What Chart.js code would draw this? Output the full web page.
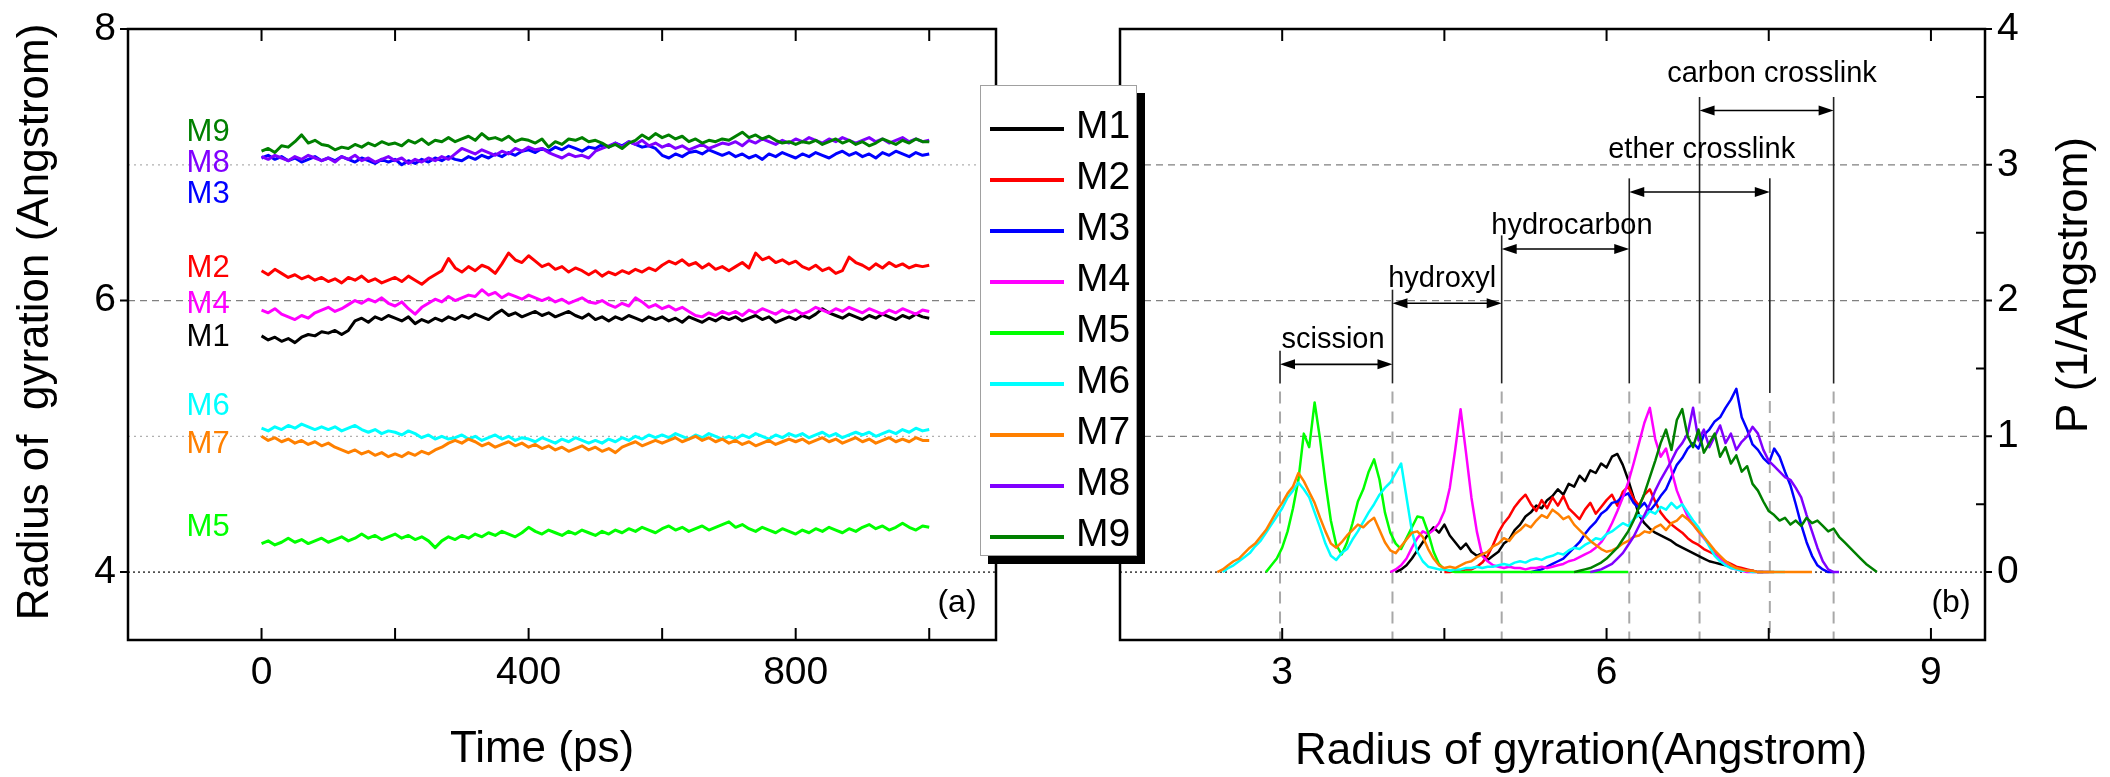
<!DOCTYPE html>
<html>
<head>
<meta charset="utf-8">
<script src="https://cdn.jsdelivr.net/npm/chart.js@4.4.1/dist/chart.umd.min.js"></script>
<style>
  html, body { margin: 0; padding: 0; background: #fff; }
  #wrap { position: relative; width: 2110px; height: 777px; overflow: hidden; background: #fff; }
  #left { position: absolute; left: 0; top: 0; }
  #right { position: absolute; left: 1060px; top: 0; }
  #legend { position: absolute; left: 980px; top: 85px; width: 155px; height: 469px;
            border: 1px solid #a0a0a0; background: #fff; box-shadow: 8px 8px 0 #000;
            font-family: 'Liberation Sans', Arial, sans-serif; }
  .row { position: absolute; left: 0; height: 0; width: 100%; }
  .row i { position: absolute; left: 9px; width: 74px; height: 4px; top: -2px; }
  .row span { position: absolute; left: 95px; top: -26px; font-size: 39px; line-height: 44px; color: #000; }
</style>
</head>
<body>
<div id="wrap">
  <canvas id="left" width="1060" height="777"></canvas>
  <canvas id="right" width="1050" height="777"></canvas>
  <div id="legend"></div>
</div>
<script>
const _ = null;

const seriesNames = ['M1', 'M2', 'M3', 'M4', 'M5', 'M6', 'M7', 'M8', 'M9'];
const seriesColors = ['#000000', '#ff0000', '#0000ff', '#ff00ff', '#00ff00', '#00ffff', '#ff8000', '#8000ff', '#008000'];

// (a) radius of gyration vs time
const timePs = [
  0, 10, 20, 30, 40, 50, 60, 70, 80, 90,
  100, 110, 120, 130, 140, 150, 160, 170, 180, 190,
  200, 210, 220, 230, 240, 250, 260, 270, 280, 290,
  300, 310, 320, 330, 340, 350, 360, 370, 380, 390,
  400, 410, 420, 430, 440, 450, 460, 470, 480, 490,
  500, 510, 520, 530, 540, 550, 560, 570, 580, 590,
  600, 610, 620, 630, 640, 650, 660, 670, 680, 690,
  700, 710, 720, 730, 740, 750, 760, 770, 780, 790,
  800, 810, 820, 830, 840, 850, 860, 870, 880, 890,
  900, 910, 920, 930, 940, 950, 960, 970, 980, 990,
  1000
];

const rgM1 = [
  5.74, 5.71, 5.73, 5.70, 5.72, 5.69, 5.73, 5.75, 5.74, 5.77,
  5.76, 5.78, 5.75, 5.78, 5.85, 5.87, 5.84, 5.88, 5.86, 5.89,
  5.87, 5.85, 5.88, 5.83, 5.86, 5.84, 5.87, 5.85, 5.88, 5.86,
  5.89, 5.87, 5.90, 5.88, 5.86, 5.90, 5.93, 5.89, 5.91, 5.88,
  5.90, 5.92, 5.89, 5.91, 5.88, 5.90, 5.92, 5.89, 5.87, 5.90,
  5.86, 5.88, 5.85, 5.88, 5.86, 5.89, 5.87, 5.85, 5.88, 5.86,
  5.88, 5.85, 5.87, 5.84, 5.88, 5.86, 5.84, 5.87, 5.85, 5.88,
  5.86, 5.88, 5.85, 5.87, 5.89, 5.86, 5.88, 5.84, 5.86, 5.88,
  5.86, 5.89, 5.87, 5.90, 5.94, 5.91, 5.89, 5.87, 5.90, 5.88,
  5.86, 5.89, 5.87, 5.90, 5.88, 5.86, 5.89, 5.87, 5.90, 5.88,
  5.87
];
const rgM2 = [
  6.22, 6.19, 6.23, 6.20, 6.17, 6.19, 6.16, 6.18, 6.15, 6.17,
  6.14, 6.16, 6.13, 6.17, 6.15, 6.18, 6.14, 6.16, 6.13, 6.15,
  6.17, 6.14, 6.18, 6.15, 6.12, 6.16, 6.19, 6.22, 6.31, 6.24,
  6.21, 6.25, 6.22, 6.26, 6.24, 6.20, 6.27, 6.35, 6.30, 6.28,
  6.33, 6.29, 6.25, 6.27, 6.23, 6.25, 6.21, 6.24, 6.22, 6.19,
  6.22, 6.18, 6.21, 6.19, 6.22, 6.20, 6.23, 6.21, 6.24, 6.22,
  6.26, 6.29, 6.27, 6.30, 6.26, 6.28, 6.24, 6.27, 6.23, 6.25,
  6.22, 6.25, 6.28, 6.24, 6.35, 6.30, 6.32, 6.28, 6.30, 6.27,
  6.29, 6.25, 6.23, 6.26, 6.22, 6.24, 6.20, 6.22, 6.32, 6.28,
  6.26, 6.23, 6.27, 6.24, 6.28, 6.25, 6.27, 6.24, 6.26, 6.25,
  6.26
];
const rgM3 = [
  7.05, 7.07, 7.04, 7.06, 7.03, 7.05, 7.02, 7.04, 7.06, 7.03,
  7.05, 7.03, 7.06, 7.04, 7.02, 7.05, 7.03, 7.01, 7.04, 7.02,
  7.04, 7.00, 7.03, 7.01, 7.04, 7.02, 7.05, 7.03, 7.06, 7.04,
  7.03, 7.06, 7.04, 7.07, 7.05, 7.08, 7.06, 7.09, 7.07, 7.10,
  7.11, 7.09, 7.12, 7.10, 7.13, 7.11, 7.14, 7.12, 7.10, 7.13,
  7.12, 7.15, 7.13, 7.16, 7.14, 7.17, 7.15, 7.13, 7.14, 7.12,
  7.07, 7.05, 7.08, 7.06, 7.09, 7.10, 7.08, 7.11, 7.09, 7.07,
  7.09, 7.06, 7.08, 7.05, 7.07, 7.04, 7.08, 7.06, 7.09, 7.07,
  7.05, 7.08, 7.06, 7.09, 7.07, 7.05, 7.08, 7.10, 7.07, 7.09,
  7.06, 7.08, 7.05, 7.09, 7.07, 7.10, 7.08, 7.06, 7.09, 7.07,
  7.08
];
const rgM4 = [
  5.93, 5.91, 5.94, 5.90, 5.88, 5.86, 5.89, 5.87, 5.91, 5.93,
  5.95, 5.92, 5.94, 5.97, 6.00, 5.98, 6.01, 5.99, 6.02, 5.98,
  5.96, 5.99, 5.94, 5.90, 5.95, 5.98, 6.01, 5.99, 6.03, 6.00,
  6.02, 6.04, 6.03, 6.08, 6.04, 6.06, 6.02, 6.05, 6.03, 6.01,
  6.04, 6.02, 6.00, 6.02, 5.99, 6.01, 5.98, 6.00, 6.02, 5.99,
  5.98, 6.00, 5.97, 5.95, 5.98, 5.96, 6.02, 5.99, 5.95, 5.97,
  5.94, 5.96, 5.93, 5.95, 5.92, 5.89, 5.88, 5.91, 5.89, 5.92,
  5.90, 5.92, 5.89, 5.93, 5.91, 5.94, 5.92, 5.90, 5.93, 5.91,
  5.93, 5.90, 5.92, 5.95, 5.93, 5.91, 5.94, 5.92, 5.95, 5.93,
  5.91, 5.94, 5.92, 5.90, 5.93, 5.91, 5.94, 5.92, 5.90, 5.93,
  5.92
];
const rgM5 = [
  4.21, 4.23, 4.20, 4.22, 4.25, 4.22, 4.24, 4.21, 4.23, 4.25,
  4.22, 4.24, 4.26, 4.23, 4.25, 4.28, 4.25, 4.27, 4.24, 4.26,
  4.28, 4.25, 4.27, 4.24, 4.26, 4.23, 4.18, 4.23, 4.26, 4.24,
  4.27, 4.25, 4.28, 4.26, 4.29, 4.27, 4.30, 4.28, 4.26, 4.29,
  4.33, 4.30, 4.28, 4.31, 4.29, 4.27, 4.30, 4.28, 4.31, 4.29,
  4.27, 4.30, 4.28, 4.31, 4.29, 4.32, 4.30, 4.33, 4.31, 4.29,
  4.32, 4.34, 4.31, 4.33, 4.30, 4.32, 4.34, 4.31, 4.33, 4.35,
  4.37, 4.33, 4.35, 4.32, 4.30, 4.33, 4.31, 4.29, 4.32, 4.30,
  4.28, 4.31, 4.29, 4.32, 4.30, 4.33, 4.31, 4.29, 4.32, 4.30,
  4.33, 4.35, 4.32, 4.34, 4.31, 4.33, 4.36, 4.33, 4.31, 4.34,
  4.33
];
const rgM6 = [
  5.06, 5.04, 5.07, 5.05, 5.08, 5.06, 5.09, 5.07, 5.05, 5.07,
  5.05, 5.07, 5.04, 5.06, 5.08, 5.05, 5.03, 5.05, 5.02, 5.04,
  5.03, 5.01, 5.04, 5.02, 4.99, 5.01, 4.98, 5.00, 4.98, 4.99,
  5.01, 4.98, 5.00, 4.97, 4.99, 5.01, 4.98, 5.00, 4.97, 4.99,
  4.98, 4.96, 4.99, 4.97, 4.95, 4.98, 4.96, 4.99, 4.97, 4.95,
  4.97, 4.95, 4.98, 4.96, 4.99, 4.97, 5.00, 4.98, 5.01, 4.99,
  5.01, 4.99, 5.02, 5.00, 4.98, 5.01, 4.99, 5.02, 5.00, 4.98,
  5.00, 4.98, 5.01, 4.99, 5.02, 5.00, 4.98, 5.01, 4.99, 5.02,
  5.00, 5.02, 4.99, 5.01, 5.03, 5.00, 5.02, 4.99, 5.01, 5.03,
  5.01, 5.03, 5.00, 5.02, 5.04, 5.02, 5.05, 5.03, 5.06, 5.04,
  5.05
];
const rgM7 = [
  5.00, 4.97, 4.99, 4.96, 4.98, 4.95, 4.97, 4.94, 4.96, 4.93,
  4.95, 4.92, 4.90, 4.88, 4.90, 4.87, 4.89, 4.86, 4.88, 4.85,
  4.87, 4.85, 4.88, 4.86, 4.89, 4.87, 4.90, 4.92, 4.95, 4.97,
  4.95, 4.98, 4.96, 4.93, 4.95, 4.92, 4.94, 4.96, 4.93, 4.95,
  4.92, 4.94, 4.91, 4.93, 4.90, 4.92, 4.89, 4.91, 4.93, 4.90,
  4.92, 4.89, 4.91, 4.88, 4.92, 4.94, 4.96, 4.93, 4.95, 4.97,
  4.95, 4.97, 4.99, 4.96, 4.98, 5.00, 4.97, 4.99, 4.96, 4.98,
  4.95, 4.97, 4.94, 4.96, 4.93, 4.95, 4.97, 4.94, 4.96, 4.98,
  4.96, 4.98, 4.95, 4.97, 4.99, 4.96, 4.98, 4.95, 4.97, 4.99,
  4.96, 4.98, 4.95, 4.97, 4.99, 4.96, 4.98, 4.96, 4.99, 4.97,
  4.97
];
const rgM8 = [
  7.06, 7.04, 7.07, 7.05, 7.03, 7.06, 7.04, 7.07, 7.05, 7.03,
  7.05, 7.02, 7.06, 7.04, 7.07, 7.03, 7.05, 7.02, 7.04, 7.06,
  7.03, 7.05, 7.01, 7.04, 7.02, 7.05, 7.03, 7.06, 7.04, 7.08,
  7.12, 7.10, 7.08, 7.11, 7.09, 7.07, 7.10, 7.08, 7.12, 7.10,
  7.13, 7.11, 7.12, 7.09, 7.07, 7.05, 7.08, 7.06, 7.07, 7.05,
  7.10, 7.12, 7.14, 7.16, 7.13, 7.17, 7.15, 7.18, 7.14, 7.16,
  7.13, 7.15, 7.12, 7.14, 7.11, 7.13, 7.15, 7.12, 7.14, 7.16,
  7.15, 7.17, 7.14, 7.18, 7.16, 7.19, 7.17, 7.15, 7.18, 7.16,
  7.19, 7.17, 7.20, 7.18, 7.16, 7.19, 7.17, 7.20, 7.18, 7.16,
  7.18, 7.20, 7.17, 7.19, 7.16, 7.18, 7.20, 7.17, 7.19, 7.17,
  7.18
];
const rgM9 = [
  7.10, 7.12, 7.09, 7.14, 7.13, 7.17, 7.22, 7.16, 7.18, 7.15,
  7.14, 7.11, 7.13, 7.12, 7.15, 7.13, 7.16, 7.14, 7.17, 7.15,
  7.16, 7.14, 7.18, 7.16, 7.19, 7.15, 7.18, 7.17, 7.20, 7.17,
  7.19, 7.21, 7.18, 7.23, 7.19, 7.20, 7.18, 7.21, 7.17, 7.19,
  7.18, 7.16, 7.19, 7.13, 7.17, 7.15, 7.19, 7.18, 7.20, 7.17,
  7.18, 7.16, 7.13, 7.15, 7.12, 7.16, 7.18, 7.22, 7.19, 7.23,
  7.20, 7.22, 7.19, 7.21, 7.17, 7.19, 7.16, 7.18, 7.17, 7.19,
  7.18, 7.21, 7.24, 7.20, 7.22, 7.19, 7.21, 7.18, 7.16, 7.17,
  7.15, 7.17, 7.16, 7.18, 7.15, 7.17, 7.19, 7.16, 7.18, 7.15,
  7.17, 7.14, 7.16, 7.19, 7.17, 7.15, 7.18, 7.16, 7.19, 7.17,
  7.17
];

// (b) distribution of radius of gyration
const rgBins = [
  2.35, 2.40, 2.45, 2.50, 2.55, 2.60, 2.65, 2.70, 2.75, 2.80,
  2.85, 2.90, 2.95, 3.00, 3.05, 3.10, 3.15, 3.20, 3.25, 3.30,
  3.35, 3.40, 3.45, 3.50, 3.55, 3.60, 3.65, 3.70, 3.75, 3.80,
  3.85, 3.90, 3.95, 4.00, 4.05, 4.10, 4.15, 4.20, 4.25, 4.30,
  4.35, 4.40, 4.45, 4.50, 4.55, 4.60, 4.65, 4.70, 4.75, 4.80,
  4.85, 4.90, 4.95, 5.00, 5.05, 5.10, 5.15, 5.20, 5.25, 5.30,
  5.35, 5.40, 5.45, 5.50, 5.55, 5.60, 5.65, 5.70, 5.75, 5.80,
  5.85, 5.90, 5.95, 6.00, 6.05, 6.10, 6.15, 6.20, 6.25, 6.30,
  6.35, 6.40, 6.45, 6.50, 6.55, 6.60, 6.65, 6.70, 6.75, 6.80,
  6.85, 6.90, 6.95, 7.00, 7.05, 7.10, 7.15, 7.20, 7.25, 7.30,
  7.35, 7.40, 7.45, 7.50, 7.55, 7.60, 7.65, 7.70, 7.75, 7.80,
  7.85, 7.90, 7.95, 8.00, 8.05, 8.10, 8.15, 8.20, 8.25, 8.30,
  8.35, 8.40, 8.45, 8.50
];

const pM1 = [
  _, _, _, _, _, _, _, _, _, _,
  _, _, _, _, _, _, _, _, _, _,
  _, _, _, _, _, _, _, _, _, _,
  _, _, _, _, 0, 0.02, 0.05, 0.1, 0.16, 0.22,
  0.28, 0.33, 0.29, 0.35, 0.27, 0.22, 0.17, 0.21, 0.15, 0.12,
  0.14, 0.09, 0.12, 0.15, 0.21, 0.24, 0.31, 0.35, 0.41, 0.44,
  0.49, 0.47, 0.53, 0.56, 0.61, 0.57, 0.65, 0.63, 0.71, 0.67,
  0.75, 0.73, 0.8, 0.77, 0.85, 0.87, 0.79, 0.68, 0.55, 0.42,
  0.36, 0.32, 0.29, 0.27, 0.25, 0.23, 0.2, 0.18, 0.16, 0.14,
  0.12, 0.1, 0.08, 0.07, 0.06, 0.05, 0.04, 0.03, 0.02, 0.01,
  0.01, 0, 0, _, _, _, _, _, _, _,
  _, _, _, _, _, _, _, _, _, _,
  _, _, _, _
];
const pM2 = [
  _, _, _, _, _, _, _, _, _, _,
  _, _, _, _, _, _, _, _, _, _,
  _, _, _, _, _, _, _, _, _, _,
  _, _, _, _, _, _, _, _, _, _,
  _, _, _, 0, 0, 0.01, 0.01, 0.02, 0.02, 0.04,
  0.07, 0.12, 0.2, 0.29, 0.36, 0.41, 0.48, 0.53, 0.57, 0.5,
  0.45, 0.53, 0.47, 0.55, 0.49, 0.56, 0.47, 0.43, 0.39, 0.46,
  0.51, 0.43, 0.48, 0.53, 0.57, 0.49, 0.59, 0.63, 0.54, 0.49,
  0.57, 0.61, 0.52, 0.44, 0.39, 0.35, 0.32, 0.29, 0.25, 0.22,
  0.2, 0.17, 0.15, 0.13, 0.1, 0.08, 0.06, 0.04, 0.03, 0.02,
  0.01, 0, 0, 0, 0, _, _, _, _, _,
  _, _, _, _, _, _, _, _, _, _,
  _, _, _, _
];
const pM3 = [
  _, _, _, _, _, _, _, _, _, _,
  _, _, _, _, _, _, _, _, _, _,
  _, _, _, _, _, _, _, _, _, _,
  _, _, _, _, _, _, _, _, _, _,
  _, _, _, _, _, _, _, _, _, _,
  _, _, _, _, _, _, _, _, _, 0,
  0.01, 0.02, 0.04, 0.06, 0.08, 0.1, 0.14, 0.18, 0.22, 0.28,
  0.33, 0.37, 0.43, 0.46, 0.51, 0.52, 0.56, 0.58, 0.51, 0.47,
  0.51, 0.45, 0.5, 0.56, 0.61, 0.7, 0.79, 0.84, 0.91, 0.95,
  0.91, 1.01, 1.05, 1.11, 1.14, 1.21, 1.27, 1.35, 1.14, 1.05,
  0.94, 0.9, 0.84, 0.8, 0.91, 0.85, 0.74, 0.64, 0.5, 0.35,
  0.22, 0.12, 0.05, 0.02, 0, 0, _, _, _, _,
  _, _, _, _
];
const pM4 = [
  _, _, _, _, _, _, _, _, _, _,
  _, _, _, _, _, _, _, _, _, _,
  _, _, _, _, _, _, _, _, _, _,
  _, _, _, 0, 0.02, 0.05, 0.1, 0.18, 0.25, 0.3,
  0.28, 0.31, 0.36, 0.45, 0.62, 0.9, 1.2, 0.88, 0.55, 0.3,
  0.12, 0.08, 0.05, 0.04, 0.03, 0.04, 0.03, 0.03, 0.02, 0.03,
  0.03, 0.04, 0.03, 0.04, 0.05, 0.06, 0.08, 0.09, 0.11, 0.13,
  0.15, 0.18, 0.22, 0.28, 0.36, 0.45, 0.55, 0.66, 0.8, 0.95,
  1.1, 1.21, 0.98, 0.85, 0.91, 0.75, 0.6, 0.5, 0.41, 0.35,
  0.3, 0.25, 0.2, 0.15, 0.1, 0.06, 0.03, 0.02, 0.01, 0,
  0, 0, 0, 0, _, _, _, _, _, _,
  _, _, _, _, _, _, _, _, _, _,
  _, _, _, _
];
const pM5 = [
  _, _, _, _, _, _, _, _, _, _,
  0, 0.05, 0.1, 0.18, 0.3, 0.47, 0.68, 1.02, 0.92, 1.25,
  0.98, 0.66, 0.38, 0.2, 0.13, 0.22, 0.36, 0.52, 0.61, 0.74,
  0.83, 0.68, 0.44, 0.29, 0.21, 0.17, 0.25, 0.33, 0.41, 0.4,
  0.29, 0.15, 0.06, 0.02, 0.01, 0, 0, 0, 0, 0,
  0, 0, 0, 0, 0, 0, 0, 0, 0, 0,
  0, 0, 0, 0, 0, 0, 0, 0, 0, 0,
  0, 0, 0, 0, 0, 0, 0, 0, _, _,
  _, _, _, _, _, _, _, _, _, _,
  _, _, _, _, _, _, _, _, _, _,
  _, _, _, _, _, _, _, _, _, _,
  _, _, _, _, _, _, _, _, _, _,
  _, _, _, _
];
const pM6 = [
  _, _, 0, 0.03, 0.05, 0.08, 0.11, 0.14, 0.19, 0.23,
  0.29, 0.35, 0.41, 0.47, 0.55, 0.6, 0.66, 0.61, 0.55, 0.44,
  0.33, 0.21, 0.12, 0.09, 0.14, 0.17, 0.24, 0.3, 0.37, 0.44,
  0.5, 0.57, 0.62, 0.66, 0.73, 0.8, 0.55, 0.3, 0.15, 0.08,
  0.04, 0.03, 0.02, 0.02, 0.01, 0.02, 0.02, 0.03, 0.03, 0.04,
  0.03, 0.04, 0.04, 0.05, 0.06, 0.05, 0.07, 0.08, 0.07, 0.09,
  0.1, 0.09, 0.11, 0.12, 0.14, 0.13, 0.16, 0.18, 0.17, 0.2,
  0.22, 0.25, 0.24, 0.28, 0.3, 0.33, 0.36, 0.34, 0.39, 0.42,
  0.4, 0.45, 0.43, 0.48, 0.46, 0.51, 0.47, 0.5, 0.44, 0.38,
  0.33, 0.26, 0.19, 0.12, 0.08, 0.05, 0.03, 0.02, 0.01, 0.01,
  0, 0, 0, 0, 0, 0, 0, _, _, _,
  _, _, _, _, _, _, _, _, _, _,
  _, _, _, _
];
const pM7 = [
  _, 0, 0.02, 0.05, 0.08, 0.1, 0.14, 0.18, 0.21, 0.26,
  0.31, 0.38, 0.45, 0.51, 0.58, 0.63, 0.73, 0.67, 0.59, 0.51,
  0.4, 0.3, 0.21, 0.18, 0.22, 0.27, 0.31, 0.35, 0.33, 0.37,
  0.4, 0.31, 0.22, 0.16, 0.14, 0.19, 0.24, 0.29, 0.3, 0.26,
  0.17, 0.1, 0.05, 0.03, 0.04, 0.03, 0.05, 0.07, 0.08, 0.11,
  0.13, 0.15, 0.19, 0.21, 0.25, 0.23, 0.28, 0.31, 0.35, 0.33,
  0.38, 0.42, 0.4, 0.46, 0.43, 0.39, 0.41, 0.35, 0.31, 0.27,
  0.23, 0.2, 0.17, 0.15, 0.16, 0.18, 0.21, 0.23, 0.26, 0.27,
  0.3, 0.29, 0.33, 0.35, 0.31, 0.36, 0.38, 0.42, 0.39, 0.35,
  0.3, 0.26, 0.21, 0.16, 0.12, 0.08, 0.05, 0.03, 0.02, 0.01,
  0.01, 0, 0, 0, 0, 0, 0, 0, 0, 0,
  0, 0, _, _, _, _, _, _, _, _,
  _, _, _, _
];
const pM8 = [
  _, _, _, _, _, _, _, _, _, _,
  _, _, _, _, _, _, _, _, _, _,
  _, _, _, _, _, _, _, _, _, _,
  _, _, _, _, _, _, _, _, _, _,
  _, _, _, _, _, _, _, _, _, _,
  _, _, _, _, _, _, _, _, _, _,
  _, _, _, _, _, _, _, _, _, _,
  0, 0.01, 0.02, 0.04, 0.06, 0.1, 0.14, 0.2, 0.26, 0.34,
  0.42, 0.5, 0.6, 0.68, 0.75, 0.82, 0.9, 0.95, 1.02, 1.21,
  0.97, 1.05, 0.92, 1.0, 1.08, 0.95, 1.02, 0.9, 0.96, 1.0,
  1.07, 1.02, 0.9, 0.82, 0.78, 0.74, 0.7, 0.68, 0.62, 0.55,
  0.42, 0.3, 0.18, 0.08, 0.02, 0, 0, _, _, _,
  _, _, _, _
];
const pM9 = [
  _, _, _, _, _, _, _, _, _, _,
  _, _, _, _, _, _, _, _, _, _,
  _, _, _, _, _, _, _, _, _, _,
  _, _, _, _, _, _, _, _, _, _,
  _, _, _, _, _, _, _, _, _, _,
  _, _, _, _, _, _, _, _, _, _,
  _, _, _, _, _, _, _, 0, 0.01, 0.02,
  0.03, 0.05, 0.07, 0.1, 0.14, 0.18, 0.24, 0.3, 0.38, 0.48,
  0.58, 0.7, 0.82, 0.95, 1.05, 0.9, 1.12, 1.2, 1.0, 0.92,
  1.05, 0.88, 0.95, 1.02, 0.85, 0.92, 0.8, 0.86, 0.74, 0.78,
  0.65, 0.6, 0.52, 0.45, 0.42, 0.38, 0.4, 0.35, 0.38, 0.34,
  0.4, 0.36, 0.38, 0.34, 0.3, 0.32, 0.26, 0.22, 0.18, 0.14,
  0.1, 0.06, 0.03, 0
];

const timeTicks = [0, 400, 800];
const rgTicks = [4, 6, 8];
const binTicks = [3, 6, 9];
const pTicks = [0, 1, 2, 3, 4];

const regionNames = ['scission', 'hydroxyl', 'hydrocarbon', 'ether crosslink', 'carbon crosslink'];
const regionFrom = [2.98, 4.02, 5.03, 6.21, 6.86];
const regionTo = [4.02, 5.03, 6.21, 7.51, 8.10];

const rgSeries = [rgM1, rgM2, rgM3, rgM4, rgM5, rgM6, rgM7, rgM8, rgM9];
const pSeries = [pM1, pM2, pM3, pM4, pM5, pM6, pM7, pM8, pM9];

const FONT = "'Liberation Sans', Arial, sans-serif";
Chart.defaults.font.family = FONT;
Chart.defaults.color = '#000';

// legend box (sits across both panels)
const legend = document.getElementById('legend');
seriesNames.forEach((name, i) => {
    const row = document.createElement('div');
    row.className = 'row';
    row.style.top = (43 + 51 * i) + 'px';
    row.innerHTML = `<i style="background:${seriesColors[i]}"></i><span>${name}</span>`;
    legend.appendChild(row);
});

function hLine(ctx, a, y, dash, color, width) {
    ctx.save();
    ctx.setLineDash(dash);
    ctx.strokeStyle = color;
    ctx.lineWidth = width;
    ctx.beginPath();
    ctx.moveTo(a.left, y);
    ctx.lineTo(a.right, y);
    ctx.stroke();
    ctx.restore();
}

function frame(ctx, a) {
    ctx.save();
    ctx.strokeStyle = '#000';
    ctx.lineWidth = 2.5;
    ctx.strokeRect(a.left, a.top, a.right - a.left, a.bottom - a.top);
    ctx.restore();
}

function vTicks(ctx, a, px, len) {
    ctx.save();
    ctx.strokeStyle = '#000';
    ctx.lineWidth = 2;
    ctx.beginPath();
    px.forEach(x => {
        ctx.moveTo(x, a.bottom); ctx.lineTo(x, a.bottom - len);
        ctx.moveTo(x, a.top); ctx.lineTo(x, a.top + len);
    });
    ctx.stroke();
    ctx.restore();
}

function rotatedText(ctx, text, x, y, size) {
    ctx.save();
    ctx.translate(x, y);
    ctx.rotate(-Math.PI / 2);
    ctx.font = `${size}px ${FONT}`;
    ctx.fillStyle = '#000';
    ctx.textAlign = 'center';
    ctx.textBaseline = 'middle';
    ctx.fillText(text, 0, 0);
    ctx.restore();
}

function plainText(ctx, text, x, y, size, color) {
    ctx.save();
    ctx.font = `${size}px ${FONT}`;
    ctx.fillStyle = color || '#000';
    ctx.textAlign = 'center';
    ctx.textBaseline = 'middle';
    ctx.fillText(text, x, y);
    ctx.restore();
}

function fixedSize(w, h) {
    return function (scale) {
        if (w !== null) scale.width = w;
        if (h !== null) scale.height = h;
        scale.paddingTop = 0; scale.paddingBottom = 0;
        scale.paddingLeft = 0; scale.paddingRight = 0;
    };
}

function setTicks(values) {
    return function (scale) { scale.ticks = values.map(v => ({ value: v })); };
}

// ---------- panel (a) ----------
const tagAt = [5.73, 6.24, 6.78, 5.97, 4.33, 5.22, 4.94, 7.01, 7.24];

const leftDecor = {
    id: 'leftDecor',
    beforeDatasetsDraw(chart) {
        const { ctx, chartArea: a, scales: { y } } = chart;
        hLine(ctx, a, y.getPixelForValue(7), [2, 4], '#b0b0b0', 1.3);
        hLine(ctx, a, y.getPixelForValue(6), [7, 5], '#808080', 1.3);
        hLine(ctx, a, y.getPixelForValue(5), [2, 4], '#b0b0b0', 1.3);
        hLine(ctx, a, y.getPixelForValue(4), [2, 3], '#505050', 1.6);
    },
    afterDatasetsDraw(chart) {
        const { ctx, chartArea: a, scales: { x, y } } = chart;
        frame(ctx, a);
        vTicks(ctx, a, [0, 200, 400, 600, 800, 1000].map(v => x.getPixelForValue(v)), 12);
        ctx.save();
        ctx.strokeStyle = '#000';
        ctx.lineWidth = 2;
        ctx.beginPath();
        rgTicks.forEach(v => {
            const py = y.getPixelForValue(v);
            ctx.moveTo(a.left - 8, py); ctx.lineTo(a.left, py);
        });
        ctx.stroke();
        ctx.restore();
        seriesNames.forEach((n, i) => {
            plainText(ctx, n, x.getPixelForValue(-80), y.getPixelForValue(tagAt[i]), 31, seriesColors[i]);
        });
        plainText(ctx, '(a)', 957, 603, 32);
    },
    afterDraw(chart) {
        const { ctx } = chart;
        rotatedText(ctx, 'Radius of  gyration (Angstrom)', 36, 322, 44);
        plainText(ctx, 'Time (ps)', 542, 750, 44);
    }
};

new Chart(document.getElementById('left'), {
    type: 'line',
    data: {
        datasets: rgSeries.map((vals, i) => ({
            label: seriesNames[i],
            data: vals.map((v, k) => ({ x: timePs[k], y: v })),
            borderColor: seriesColors[i],
            borderWidth: 3,
            borderJoinStyle: 'round',
            pointRadius: 0,
            tension: 0,
            order: 9 - i
        }))
    },
    options: {
        responsive: false,
        animation: false,
        devicePixelRatio: 1,
        layout: { padding: { left: 0, right: 64, top: 29, bottom: 0 } },
        plugins: { legend: { display: false }, tooltip: { enabled: false } },
        scales: {
            x: {
                type: 'linear', min: -200, max: 1100,
                afterBuildTicks: setTicks(timeTicks),
                afterFit: fixedSize(null, 137),
                grid: { display: false, drawTicks: false },
                border: { display: false },
                ticks: { font: { size: 39 }, padding: 10, maxRotation: 0, autoSkip: false }
            },
            y: {
                type: 'linear', min: 3.5, max: 8,
                afterBuildTicks: setTicks(rgTicks),
                afterFit: fixedSize(128, null),
                grid: { display: false, drawTicks: false },
                border: { display: false },
                ticks: { font: { size: 39 }, padding: 12 }
            }
        }
    },
    plugins: [leftDecor]
});

// ---------- panel (b) ----------
const arrowAt = [1.53, 1.98, 2.38, 2.80, 3.40];
const labelAt = [1.71, 2.16, 2.55, 3.11, 3.67];
const labelX = [3.47, 4.48, 5.68, 6.88, 7.53];

function arrowHead(ctx, x, y, dir) {
    ctx.beginPath();
    ctx.moveTo(x, y);
    ctx.lineTo(x - dir * 15, y - 5);
    ctx.lineTo(x - dir * 15, y + 5);
    ctx.closePath();
    ctx.fill();
}

const rightDecor = {
    id: 'rightDecor',
    beforeDatasetsDraw(chart) {
        const { ctx, chartArea: a, scales: { x, y } } = chart;
        [3, 2, 1].forEach(v => hLine(ctx, a, y.getPixelForValue(v), [7, 5], '#808080', 1.3));
        hLine(ctx, a, y.getPixelForValue(0), [2, 3], '#505050', 1.6);

        // region boundaries: solid above, dashed down to the axis
        const bounds = [...new Set(regionFrom.concat(regionTo))];
        bounds.forEach(b => {
            let top = 0;
            regionFrom.forEach((f, i) => {
                if (f === b || regionTo[i] === b) top = Math.max(top, arrowAt[i]);
            });
            const px = x.getPixelForValue(b);
            const solidEnd = b === 7.51 ? 1.32 : 1.39;
            ctx.save();
            ctx.strokeStyle = '#222';
            ctx.lineWidth = 1.6;
            ctx.beginPath();
            ctx.moveTo(px, y.getPixelForValue(top + 0.1));
            ctx.lineTo(px, y.getPixelForValue(solidEnd));
            ctx.stroke();
            ctx.strokeStyle = '#a8a8a8';
            ctx.lineWidth = 2;
            ctx.setLineDash([12, 8]);
            ctx.beginPath();
            ctx.moveTo(px, y.getPixelForValue(solidEnd - 0.06));
            ctx.lineTo(px, a.bottom);
            ctx.stroke();
            ctx.restore();
        });
    },
    afterDatasetsDraw(chart) {
        const { ctx, chartArea: a, scales: { x, y } } = chart;
        frame(ctx, a);
        vTicks(ctx, a, [3, 4.5, 6, 7.5, 9].map(v => x.getPixelForValue(v)), 12);
        ctx.save();
        ctx.strokeStyle = '#000';
        ctx.lineWidth = 2;
        ctx.beginPath();
        [0.5, 1.5, 2.5, 3.5].forEach(v => {
            const py = y.getPixelForValue(v);
            ctx.moveTo(a.right, py); ctx.lineTo(a.right - 9, py);
        });
        pTicks.forEach(v => {
            const py = y.getPixelForValue(v);
            ctx.moveTo(a.right, py); ctx.lineTo(a.right + 7, py);
        });
        ctx.stroke();
        ctx.restore();

        regionNames.forEach((name, i) => {
            const x0 = x.getPixelForValue(regionFrom[i]);
            const x1 = x.getPixelForValue(regionTo[i]);
            const py = y.getPixelForValue(arrowAt[i]);
            ctx.save();
            ctx.strokeStyle = '#000';
            ctx.fillStyle = '#000';
            ctx.lineWidth = 1.6;
            ctx.beginPath();
            ctx.moveTo(x0 + 4, py);
            ctx.lineTo(x1 - 4, py);
            ctx.stroke();
            arrowHead(ctx, x0, py, -1);
            arrowHead(ctx, x1, py, 1);
            ctx.restore();
            plainText(ctx, name, x.getPixelForValue(labelX[i]), y.getPixelForValue(labelAt[i]), 29);
        });
        plainText(ctx, '(b)', 891, 603, 32);
    },
    afterDraw(chart) {
        const { ctx } = chart;
        plainText(ctx, 'Radius of gyration(Angstrom)', 521, 752, 44);
        rotatedText(ctx, 'P (1/Angstrom)', 1015, 285, 44);
    }
};

new Chart(document.getElementById('right'), {
    type: 'line',
    data: {
        datasets: pSeries.map((vals, i) => ({
            label: seriesNames[i],
            data: vals.map((v, k) => ({ x: rgBins[k], y: v })),
            borderColor: seriesColors[i],
            borderWidth: 2.5,
            borderJoinStyle: 'round',
            pointRadius: 0,
            tension: 0,
            spanGaps: false,
            order: 9 - i
        }))
    },
    options: {
        responsive: false,
        animation: false,
        devicePixelRatio: 1,
        layout: { padding: { left: 60, right: 0, top: 29, bottom: 0 } },
        plugins: { legend: { display: false }, tooltip: { enabled: false } },
        scales: {
            x: {
                type: 'linear', min: 1.5, max: 9.5,
                afterBuildTicks: setTicks(binTicks),
                afterFit: fixedSize(null, 137),
                grid: { display: false, drawTicks: false },
                border: { display: false },
                ticks: { font: { size: 39 }, padding: 10, maxRotation: 0, autoSkip: false }
            },
            y: {
                type: 'linear', position: 'right', min: -0.5, max: 4,
                afterBuildTicks: setTicks(pTicks),
                afterFit: fixedSize(125, null),
                grid: { display: false, drawTicks: false },
                border: { display: false },
                ticks: { font: { size: 39 }, padding: 12 }
            }
        }
    },
    plugins: [rightDecor]
});
</script>
</body>
</html>
